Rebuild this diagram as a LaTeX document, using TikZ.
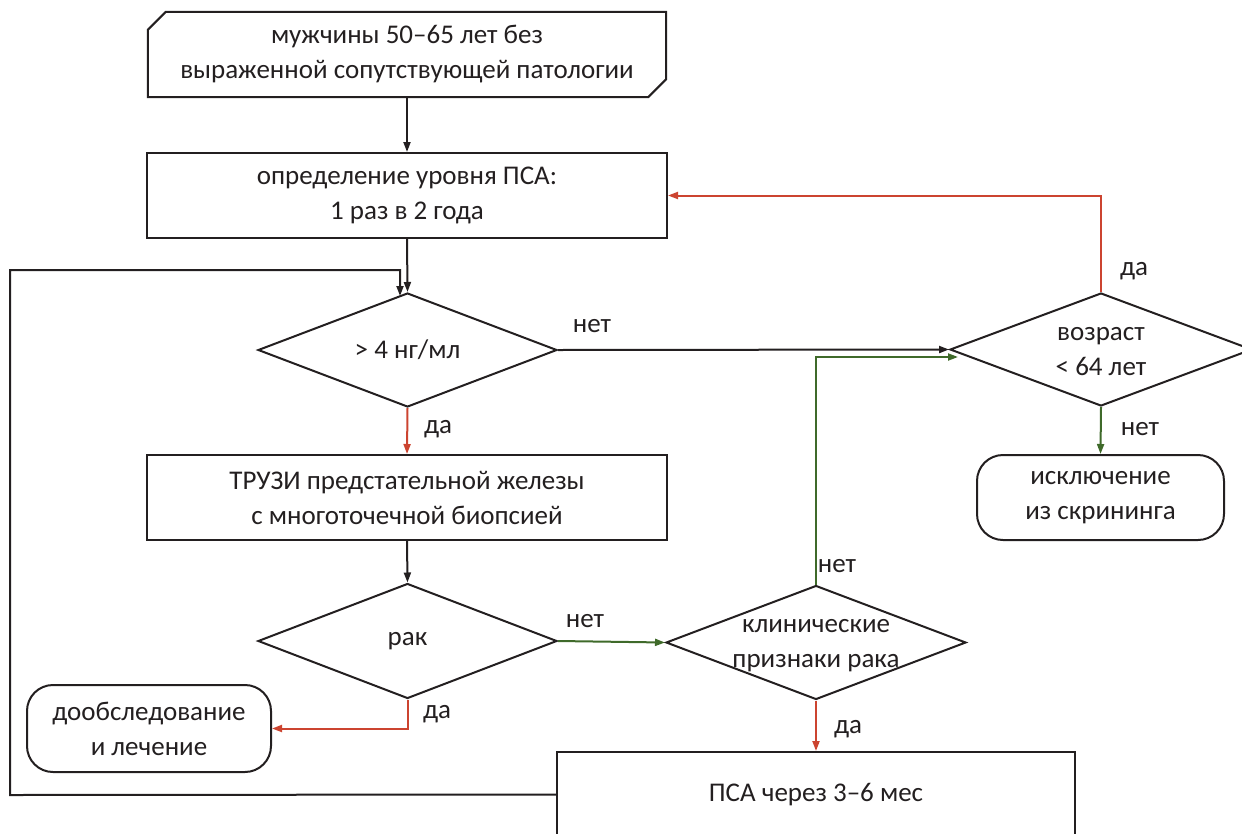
\documentclass[tikz,border=0pt]{standalone}
\usepackage{fontspec}
\setmainfont{Carlito}
\usetikzlibrary{shapes.geometric,arrows.meta,calc}
\definecolor{cred}{HTML}{CC4430}
\definecolor{cgreen}{HTML}{3F6A2A}
\definecolor{cblk}{HTML}{231F20}
\begin{document}
\begin{tikzpicture}[x=1pt,y=-1pt,
  every node/.style={font=\fontsize{27}{35}\selectfont, text=cblk},
  boxst/.style={draw=cblk, line width=2pt, rectangle, minimum height=85pt, inner sep=0pt, align=center},
  invis/.style={draw=none, rectangle, minimum height=85pt, inner sep=0pt, align=center},
  roundst/.style={boxst, rounded corners=26pt},
  decst/.style={draw=cblk, line width=2pt, diamond, inner sep=0pt},
  txt/.style={inner sep=0pt, align=center},
  conn/.style={line width=2pt, -{Triangle[length=10pt,width=7pt]}},
  blk/.style={conn, draw=cblk},
  redc/.style={conn, draw=cred},
  grn/.style={conn, draw=cgreen},
  lbl/.style={inner sep=0pt}
]
\useasboundingbox (0,0) rectangle (1242,833);
% top card
\node[invis, minimum width=518pt] (top) at (407,54.5) {мужчины 50–65 лет без\\выраженной сопутствующей патологии};
\draw[cblk, line width=2pt] ($(top.north west)+(0,18)$) -- ($(top.north west)+(18,0)$) -- (top.north east) -- ($(top.south east)+(0,-18)$) -- ($(top.south east)+(-18,0)$) -- (top.south west) -- cycle;
\node[boxst, minimum width=520pt] (box2) at (407,195.5) {определение уровня ПСА:\\1 раз в 2 года};
\node[decst, minimum width=299pt, minimum height=114pt] (d1) at (407.5,350) {};
\node[txt] (t1) at (d1.center) {> 4 нг/мл};
\node[decst, minimum width=302pt, minimum height=113pt] (d3) at (1101,349.5) {};
\node[txt] (t3) at (1101,352) {возраст\\< 64 лет};
\node[roundst, minimum width=247pt] (excl) at (1100.5,497.5) {исключение\\из скрининга};
\node[boxst, minimum width=520pt] (truzi) at (407,497.5) {ТРУЗИ предстательной железы\\с многоточечной биопсией};
\node[decst, minimum width=299pt, minimum height=115pt] (rak) at (407.5,641) {};
\node[txt] (t4) at (rak.center) {рак};
\node[decst, minimum width=300pt, minimum height=114pt] (klin) at (816,642.5) {};
\node[txt] (t5) at (816,646) {клинические\\признаки рака};
\node[roundst, minimum width=244pt, minimum height=87pt] (dob) at (149,728.5) {дообследование\\и лечение};
\node[boxst, minimum width=518pt] (psa) at (816,794.5) {ПСА через 3–6 мес};
% labels
\node[lbl] (l1) at (592,326) {нет};
\node[lbl] (l2) at (438,429) {да};
\node[lbl] (l3) at (1134,271) {да};
\node[lbl] (l4) at (1140,429) {нет};
\node[lbl] (l5) at (585,621) {нет};
\node[lbl] (l6) at (437,714) {да};
\node[lbl] (l7) at (837,566) {нет};
\node[lbl] (l8) at (848,729) {да};
% coordinates
\coordinate (lpA) at (10,795);
\coordinate (lpB) at (10,270);
\coordinate (lpC) at (400,270);
\coordinate (lpD) at (400,296);
\coordinate (gA) at (816,357);
\coordinate (gB) at (958,357);
% connectors
\draw[blk] (top.south) -- (top.south |- box2.north);
\draw[blk] (box2.south) -- (d1.north);
\draw[blk] (psa.west) -- (lpA) -- (lpB) -- (lpC) -- (lpD);
\draw[blk] (d1.east) -- (d3.west);
\draw[redc] (d3.north) |- (box2.east);
\draw[grn] (d3.south) -- (excl.north);
\draw[redc] (d1.south) -- (truzi.north);
\draw[blk] (truzi.south) -- (rak.north);
\draw[grn] (rak.east) -- (klin.west);
\draw[grn] (klin.north) -- (gA) -- (gB);
\draw[redc] (rak.south) |- (dob.east);
\draw[redc] (klin.south) -- (psa.north);
\end{tikzpicture}
\end{document}
